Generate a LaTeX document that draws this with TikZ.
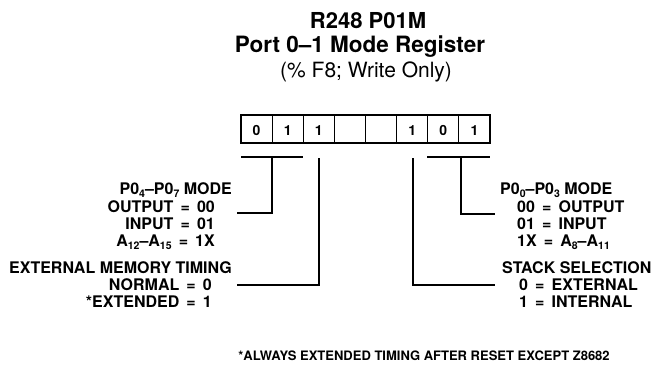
\documentclass[tikz,border=0pt]{standalone}
\usepackage{fontspec}
\setmainfont{TeX Gyre Heros}
\newcommand\lsub[1]{\raisebox{-0.35ex}{\fontsize{10.5}{10.5}\selectfont #1}}
\tikzset{
  lbl/.style={inner sep=0pt, font=\fontsize{16}{17}\selectfont\bfseries},
  bitdig/.style={inner sep=0pt, font=\fontsize{14}{14}\selectfont\bfseries},
  wire/.style={line width=1.4pt},
}
\begin{document}
\begin{tikzpicture}[x=1pt,y=-1pt]
\useasboundingbox (0,0) rectangle (651,370);
% title
\node[inner sep=0pt, anchor=base, font=\fontsize{22}{22}\selectfont\bfseries] (t1) at (368,28) {R248 P01M};
\node[inner sep=0pt, anchor=base, font=\fontsize{22.5}{22}\selectfont\bfseries] (t2) at (360,52) {Port 0--1 Mode Register};
\node[inner sep=0pt, anchor=base, font=\fontsize{21}{21}\selectfont] (t3) at (366,77) {(\% F8; Write Only)};
% register
\foreach \i in {1,...,7} \draw[line width=0.9pt] ({241+\i*31.125},115) -- ({241+\i*31.125},143);
\draw[line width=2.6pt] (241,115) rectangle (490,143);
\foreach \i/\v in {0/0,1/1,2/1,5/1,6/0,7/1}
  \node[bitdig, anchor=base] (b\i) at ({241+(\i+0.5)*31.125},135) {\v};
% left labels
\node[lbl, anchor=base east] (m1) at (232,194) {P0\lsub{4}--P0\lsub{7} MODE};
\node[lbl, anchor=base east] (m2) at (215,212) {OUTPUT \,=\, 00};
\node[lbl, anchor=base east] (m3) at (215,229) {INPUT \,=\, 01};
\node[lbl, anchor=base east] (m4) at (215,246) {A\lsub{12}--A\lsub{15} \,=\, 1X};
\node[lbl, anchor=base east] (e1) at (232,273) {EXTERNAL MEMORY TIMING};
\node[lbl, anchor=base east] (e2) at (212,290) {NORMAL \,=\, 0};
\node[lbl, anchor=base east] (e3) at (212,307) {*EXTENDED \,=\, 1};
% right labels
\node[lbl, anchor=base west] (p1) at (500,194) {P0\lsub{0}--P0\lsub{3} MODE};
\node[lbl, anchor=base west] (p2) at (517,212) {00 \,=\, OUTPUT};
\node[lbl, anchor=base west] (p3) at (517,229) {01 \,=\, INPUT};
\node[lbl, anchor=base west] (p4) at (517,246) {1X \,=\, A\lsub{8}--A\lsub{11}};
\node[lbl, anchor=base west] (s1) at (502,273) {STACK SELECTION};
\node[lbl, anchor=base west] (s2) at (519,290) {0 \,=\, EXTERNAL};
\node[lbl, anchor=base west] (s3) at (519,307) {1 \,=\, INTERNAL};
% footnote
\node[inner sep=0pt, anchor=base, font=\fontsize{13}{13}\selectfont\bfseries] (fn) at (424,360) {*ALWAYS EXTENDED TIMING AFTER RESET EXCEPT Z8682};
% connectors
\coordinate (lbA) at (241,157);
\coordinate (lbB) at (303,157);
\coordinate (lbM) at (272,157);
\coordinate (lbE) at (237,213);
\draw[wire] (lbA) -- (lbB);
\draw[wire] (lbM) |- (lbE);
\coordinate (emT) at (319,158);
\coordinate (emE) at (237,285);
\draw[wire] (emT) |- (emE);
\coordinate (ssT) at (413,158);
\coordinate (ssE) at (495,285);
\draw[wire] (ssT) |- (ssE);
\coordinate (rbA) at (427,157);
\coordinate (rbB) at (490,157);
\coordinate (rbM) at (461,157);
\coordinate (rbE) at (495,214);
\draw[wire] (rbA) -- (rbB);
\draw[wire] (rbM) |- (rbE);
\end{tikzpicture}
\end{document}
